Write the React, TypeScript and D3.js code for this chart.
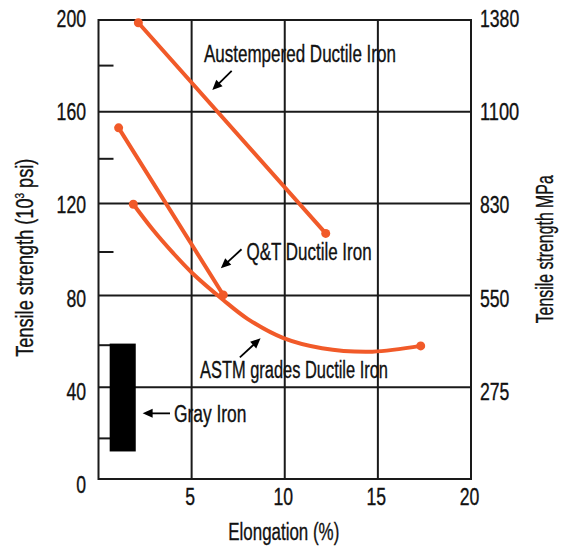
import React from "react";
import * as d3 from "d3";

const xTicks = [5, 10, 15, 20];
const yTicks = [0, 40, 80, 120, 160, 200];
const gridY = [40, 80, 120, 160];
const gridX = [5, 10, 15];
const minorTicks = [20, 60, 100, 140, 180];
const mpaValues = [40, 80, 120, 160, 200];
const mpaLabels = ["275", "550", "830", "1100", "1380"];

const austempered: [number, number][] = [[2.14, 198.8], [12.2, 107]];
const qtDuctile: [number, number][] = [[1.08, 153], [6.7, 80.2]];
const astmDuctile: [number, number][] = [
  [1.87, 119.7], [2.9, 108.8], [4, 98.5], [5, 90], [6.7, 78], [8, 69.8],
  [9.9, 61.5], [12, 57], [14.7, 55.5], [17.3, 58],
];
const grayIronX = [0.6, 2.0];
const grayIronY = [12, 59];

const annotations = [
  { text: "Austempered Ductile Iron", tx: 5.66, ty: 181.7, w: 192, from: [7.15, 177.8], to: [6.11, 169.5] },
  { text: "Q&T Ductile Iron", tx: 7.95, ty: 95.4, w: 125, from: [7.68, 100.1], to: [6.57, 91.8] },
  { text: "ASTM grades Ductile Iron", tx: 5.45, ty: 43.9, w: 188, from: [7.59, 53.0], to: [8.7, 61.3] },
  { text: "Gray Iron", tx: 4.05, ty: 25.0, w: 72.5, from: [3.84, 28.6], to: [2.37, 28.6] },
];

const W = 561, H = 546;
const ORANGE = "#F15A29";
const FONT = "'Liberation Sans Narrow', 'Liberation Sans', Arial, sans-serif";
const FS = 23.5;
const TXT = "#111";

export default function App() {
  const x = d3.scaleLinear().domain([0, 20]).range([98.5, 471]);
  const y = d3.scaleLinear().domain([0, 200]).range([479, 20]);
  const tickY = d3.scaleLinear().domain([0, 200]).range([485, 19]);

  const straight = d3.line<[number, number]>().x((d) => x(d[0])).y((d) => y(d[1]));
  const curved = d3
    .line<[number, number]>()
    .x((d) => x(d[0]))
    .y((d) => y(d[1]))
    .curve(d3.curveCatmullRom.alpha(0.5));

  const series = [
    { pts: austempered, gen: straight },
    { pts: qtDuctile, gen: straight },
    { pts: astmDuctile, gen: curved },
  ];

  const arrowHead = (x1: number, y1: number, x2: number, y2: number) => {
    const dx = x2 - x1, dy = y2 - y1;
    const len = Math.hypot(dx, dy);
    const ux = dx / len, uy = dy / len;
    const L = 10, hw = 4.5;
    const bx = x2 - ux * L, by = y2 - uy * L;
    return `M${x2},${y2}L${bx - uy * hw},${by + ux * hw}L${bx + uy * hw},${by - ux * hw}Z`;
  };

  const textProps = { fontSize: FS, fill: TXT, stroke: TXT, strokeWidth: 0.35, lengthAdjust: "spacingAndGlyphs" } as const;

  return (
    <svg width={W} height={H} style={{ position: "absolute", left: 0, top: 0 }} fontFamily={FONT}>
      <rect width={W} height={H} fill="#fff" />
      {gridY.map((v) => (
        <line key={"gy" + v} x1={x(0)} x2={x(20)} y1={y(v)} y2={y(v)} stroke="#1a1a1a" strokeWidth={2} />
      ))}
      {gridX.map((v) => (
        <line key={"gx" + v} x1={x(v)} x2={x(v)} y1={y(0)} y2={y(200)} stroke="#1a1a1a" strokeWidth={2} />
      ))}
      {minorTicks.map((v) => (
        <line key={"mt" + v} x1={x(0)} x2={x(0) + 15} y1={tickY(v)} y2={tickY(v)} stroke="#1a1a1a" strokeWidth={2} />
      ))}
      <rect x={x(0)} y={y(200)} width={x(20) - x(0)} height={y(0) - y(200)} fill="none" stroke="#1a1a1a" strokeWidth={2} />

      <rect
        x={x(grayIronX[0])}
        y={y(grayIronY[1])}
        width={x(grayIronX[1]) - x(grayIronX[0])}
        height={y(grayIronY[0]) - y(grayIronY[1])}
        fill="#000"
      />

      {series.map((s, i) => (
        <g key={"s" + i}>
          <path d={s.gen(s.pts) || ""} fill="none" stroke={ORANGE} strokeWidth={4} strokeLinecap="round" strokeLinejoin="round" />
          <circle cx={x(s.pts[0][0])} cy={y(s.pts[0][1])} r={4.5} fill={ORANGE} />
          <circle cx={x(s.pts[s.pts.length - 1][0])} cy={y(s.pts[s.pts.length - 1][1])} r={4.5} fill={ORANGE} />
        </g>
      ))}

      {annotations.map((a, i) => {
        const x1 = x(a.from[0]), y1 = y(a.from[1]), x2 = x(a.to[0]), y2 = y(a.to[1]);
        const len = Math.hypot(x2 - x1, y2 - y1);
        const sx = x2 - ((x2 - x1) / len) * 8, sy = y2 - ((y2 - y1) / len) * 8;
        return (
          <g key={"a" + i}>
            <text x={x(a.tx)} y={y(a.ty)} {...textProps} textLength={a.w}>
              {a.text}
            </text>
            <line x1={x1} y1={y1} x2={sx} y2={sy} stroke="#000" strokeWidth={1.8} />
            <path d={arrowHead(x1, y1, x2, y2)} fill="#000" />
          </g>
        );
      })}

      {yTicks.map((v) => (
        <text key={"yl" + v} x={86} y={tickY(v) + 8} {...textProps} textAnchor="end"
          textLength={String(v).length * 9.8}>
          {v}
        </text>
      ))}
      {mpaValues.map((v, i) => (
        <text key={"yr" + v} x={480} y={tickY(v) + 8} {...textProps} textAnchor="start"
          textLength={mpaLabels[i].length * 9.8}>
          {mpaLabels[i]}
        </text>
      ))}
      {xTicks.map((v) => (
        <text key={"xl" + v} x={x(v) - 1.5} y={505} {...textProps} textAnchor="middle"
          textLength={String(v).length * 9.8}>
          {v}
        </text>
      ))}

      <text x={228.3} y={540} {...textProps} textLength={111}>
        Elongation (%)
      </text>
      <text transform="translate(33,356.7) rotate(-90)" {...textProps} textLength={198}>
        Tensile strength (10<tspan fontSize={13} dy={-9}>3</tspan><tspan dy={9}> psi)</tspan>
      </text>
      <text transform="translate(552.7,323.3) rotate(-90)" {...textProps} textLength={148}>
        Tensile strength MPa
      </text>
    </svg>
  );
}
